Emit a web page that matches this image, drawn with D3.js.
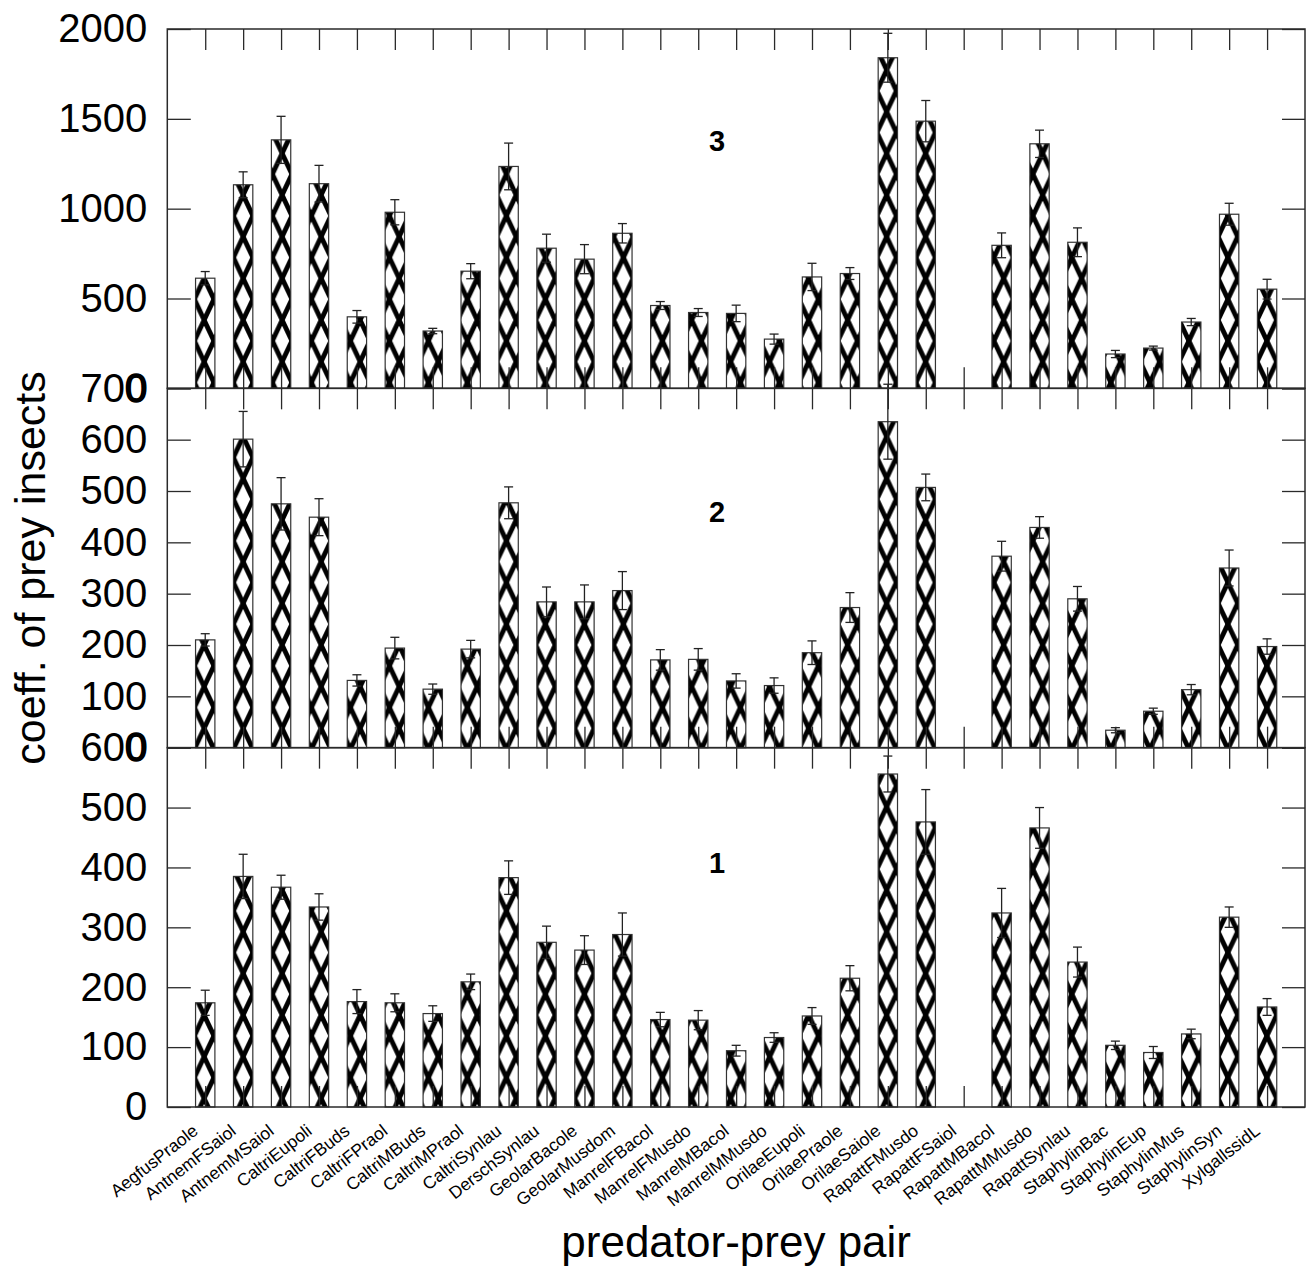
<!DOCTYPE html>
<html>
<head>
<meta charset="utf-8">
<script src="https://cdn.jsdelivr.net/npm/d3@7"></script>
<style>
  body { margin: 0; background: #fff; }
  text { font-family: "Liberation Sans", Arial, Helvetica, sans-serif; }
</style>
</head>
<body>
<svg id="chart" width="1309" height="1272"></svg>
<script>
// ---------------- data ----------------
const categories = ["AegfusPraole","AntnemFSaiol","AntnemMSaiol","CaltriEupoli","CaltriFBuds","CaltriFPraol",
  "CaltriMBuds","CaltriMPraol","CaltriSynlau","DerschSynlau","GeolarBacole","GeolarMusdom","ManrelFBacol",
  "ManrelFMusdo","ManrelMBacol","ManrelMMusdo","OrilaeEupoli","OrilaePraole","OrilaeSaiole","RapattFMusdo",
  "RapattFSaiol","RapattMBacol","RapattMMusdo","RapattSynlau","StaphylinBac","StaphylinEup","StaphylinMus",
  "StaphylinSyn","XylgallssidL"];

// panel 3 (top)
const panel3Values = [613,1133,1383,1139,398,980,319,652,1235,780,719,863,461,422,417,274,620,639,1840,1487,null,796,1361,813,191,224,369,969,552];
const panel3Errors = [37,72,131,102,35,70,15,42,130,78,81,54,22,22,46,28,76,33,136,115,null,69,76,80,20,11,20,61,55];
const panel3Ticks = [0,500,1000,1500,2000];

// panel 2 (middle)
const panel2Values = [210,601,475,449,131,194,114,192,477,284,284,306,171,172,130,121,185,273,635,507,null,373,429,290,34,71,113,350,197];
const panel2Errors = [12,54,51,36,11,21,10,17,31,29,33,37,20,21,14,15,23,29,73,26,null,29,21,24,5,6,10,35,15];
const panel2Ticks = [0,100,200,300,400,500,600,700];

// panel 1 (bottom)
const panel1Values = [174,385,367,334,176,174,156,209,383,275,262,288,146,145,94,116,152,215,556,476,null,324,466,242,103,91,122,317,167];
const panel1Errors = [21,37,20,22,20,15,13,13,28,27,24,36,12,16,9,8,14,21,30,54,null,41,34,25,7,10,8,17,14];
const panel1Ticks = [0,100,200,300,400,500,600];

const panelNames = ["3","2","1"];
const panelNameValues = [1320, 440, 390];

const xTitle = "predator-prey pair";
const yTitle = "coeff. of prey insects";

// ---------------- layout ----------------
const plotLeft = 167.3, plotRight = 1305, plotTop = 29, plotBottom = 1107;
const panelH = (plotBottom - plotTop) / 3;
const hatchPhaseY = [361.7, 478.3, 1056.7];

const svg = d3.select("#chart");
const defs = svg.append("defs");

const x = d3.scalePoint().domain(categories).range([plotLeft, plotRight]).padding(1);
const barW = x.step() * 0.51;

const panels = [
  {values: panel3Values, errors: panel3Errors, ticks: panel3Ticks},
  {values: panel2Values, errors: panel2Errors, ticks: panel2Ticks},
  {values: panel1Values, errors: panel1Errors, ticks: panel1Ticks}
];

// hatch pattern (cross-hatch, thick diagonal lines)
const Px = 19.5, D = 41.67;
panels.forEach((p, i) => {
  const pat = defs.append("pattern")
    .attr("id", "hatch" + i)
    .attr("patternUnits", "userSpaceOnUse")
    .attr("width", Px).attr("height", D)
    .attr("patternTransform", `translate(${x(categories[1])},${hatchPhaseY[i]})`);
  pat.append("rect").attr("width", Px).attr("height", D).attr("fill", "#fff");
  for (let k = -1; k <= 2; k++) {
    pat.append("line")
      .attr("x1", k * Px - Px).attr("y1", -D).attr("x2", k * Px + 2 * Px).attr("y2", 2 * D)
      .attr("stroke", "#000").attr("stroke-width", 4.8);
    pat.append("line")
      .attr("x1", k * Px + Px).attr("y1", -D).attr("x2", k * Px - 2 * Px).attr("y2", 2 * D)
      .attr("stroke", "#000").attr("stroke-width", 4.8);
  }
});

const frameColor = "#2a2a2a";

panels.forEach((p, i) => {
  const top = plotTop + i * panelH, bottom = top + panelH;
  const y = d3.scaleLinear().domain([0, d3.max(p.ticks)]).range([bottom, top]);
  const g = svg.append("g");

  const data = categories.map((c, j) => ({c, v: p.values[j], e: p.errors[j]})).filter(d => d.v != null);

  // bars
  g.selectAll("rect.bar").data(data).join("rect")
    .attr("class", "bar")
    .attr("x", d => x(d.c) - barW / 2)
    .attr("y", d => y(d.v))
    .attr("width", barW)
    .attr("height", d => y(0) - y(d.v))
    .attr("fill", `url(#hatch${i})`)
    .attr("stroke", "#333")
    .attr("stroke-width", 1.2);

  // error bars
  const eg = g.selectAll("g.err").data(data).join("g").attr("class", "err")
    .attr("stroke", "#222").attr("stroke-width", 1.3);
  eg.append("line")
    .attr("x1", d => x(d.c)).attr("x2", d => x(d.c))
    .attr("y1", d => y(d.v + d.e)).attr("y2", d => y(d.v - d.e));
  eg.append("line")
    .attr("x1", d => x(d.c) - 4.5).attr("x2", d => x(d.c) + 4.5)
    .attr("y1", d => y(d.v + d.e)).attr("y2", d => y(d.v + d.e));
  eg.append("line")
    .attr("x1", d => x(d.c) - 4.5).attr("x2", d => x(d.c) + 4.5)
    .attr("y1", d => y(d.v - d.e)).attr("y2", d => y(d.v - d.e));

  // axes (inward ticks)
  const left = g.append("g").attr("transform", `translate(${plotLeft},0)`)
    .call(d3.axisLeft(y).tickValues(p.ticks).tickSize(-23.5).tickPadding(20).tickFormat(d3.format("d")));
  left.select(".domain").remove();
  left.selectAll("line").attr("stroke", frameColor).attr("stroke-width", 1.3);
  left.selectAll("text").attr("font-size", 40).attr("fill", "#000")
    .attr("font-family", "'Liberation Sans', Arial, sans-serif");
  // the "0" of the upper panels sits on the next panel's top label and looks bold there
  if (i < panels.length - 1) {
    left.selectAll(".tick").filter(d => d === 0).select("text")
      .attr("stroke", "#000").attr("stroke-width", 1.6);
  }

  const right = g.append("g").attr("transform", `translate(${plotRight},0)`)
    .call(d3.axisRight(y).tickValues(p.ticks).tickSize(-23).tickFormat(""));
  right.select(".domain").remove();
  right.selectAll("line").attr("stroke", frameColor).attr("stroke-width", 1.3);

  const topAx = g.append("g").attr("transform", `translate(0,${top})`)
    .call(d3.axisTop(x).tickSize(-21).tickFormat(""));
  topAx.select(".domain").remove();
  topAx.selectAll("line").attr("stroke", frameColor).attr("stroke-width", 1.3);

  const botAx = g.append("g").attr("transform", `translate(0,${bottom})`)
    .call(d3.axisBottom(x).tickSize(-21).tickFormat(""));
  botAx.select(".domain").remove();
  botAx.selectAll("line").attr("stroke", frameColor).attr("stroke-width", 1.3);

  // frame
  g.append("rect")
    .attr("x", plotLeft).attr("y", top)
    .attr("width", plotRight - plotLeft).attr("height", bottom - top)
    .attr("fill", "none").attr("stroke", frameColor).attr("stroke-width", 1.5);

  // panel label
  const mid = (x(categories[13]) + x(categories[14])) / 2;
  g.append("text")
    .attr("x", mid).attr("y", y(panelNameValues[i]))
    .attr("text-anchor", "middle")
    .attr("font-size", 29).attr("font-weight", "bold")
    .text(panelNames[i]);

  // category labels under the bottom panel
  if (i === panels.length - 1) {
    g.selectAll("text.cat").data(categories).join("text")
      .attr("class", "cat")
      .attr("text-anchor", "end")
      .attr("font-size", 17.5)
      .attr("transform", d => `translate(${x(d) - 6},${bottom + 26}) rotate(-38)`)
      .text(d => d);
  }
});

// axis titles
svg.append("text")
  .attr("x", (plotLeft + plotRight) / 2).attr("y", 1257)
  .attr("text-anchor", "middle").attr("font-size", 44)
  .text(xTitle);

svg.append("text")
  .attr("transform", `translate(45,${(plotTop + plotBottom) / 2}) rotate(-90)`)
  .attr("text-anchor", "middle").attr("font-size", 43)
  .text(yTitle);
</script>
</body>
</html>
